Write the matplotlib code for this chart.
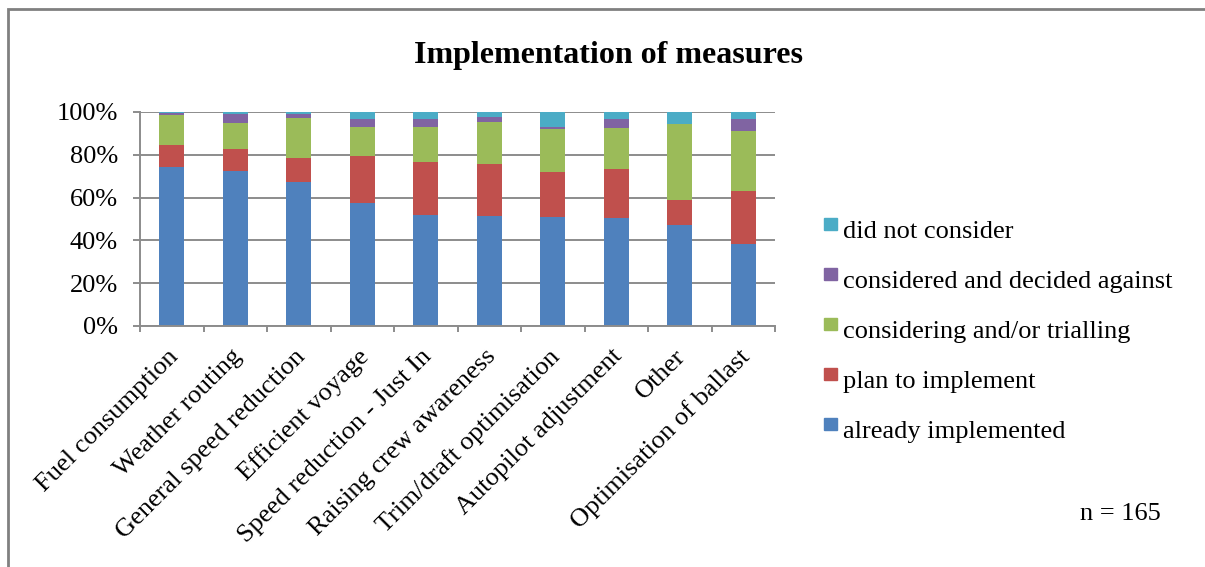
import numpy as np
import matplotlib
matplotlib.use('Agg')
import matplotlib.pyplot as plt
from matplotlib.patches import Rectangle
from matplotlib.transforms import ScaledTranslation
from matplotlib.ticker import PercentFormatter, FixedLocator, NullFormatter

''' chart data, read off the reference (percent of respondents) '''
measures = ['Fuel consumption', 'Weather routing', 'General speed reduction',
            'Efficient voyage', 'Speed reduction - Just In', 'Raising crew awareness',
            'Trim/draft optimisation', 'Autopilot adjustment', 'Other',
            'Optimisation of ballast']
already_implemented = [74.3, 72.5, 67.2, 57.6, 52.1, 51.6, 51.0, 50.4, 47.3, 38.4]
plan_to_implement = [10.3, 10.2, 11.4, 21.7, 24.7, 23.9, 21.1, 22.8, 11.5, 24.6]
considering_trialling = [13.8, 12.0, 18.6, 13.7, 16.2, 19.8, 19.8, 19.2, 35.4, 28.3]
decided_against = [1.1, 4.2, 1.7, 3.6, 3.6, 2.5, 1.2, 4.2, 0.0, 5.3]
did_not_consider = [0.5, 1.1, 1.1, 3.4, 3.4, 2.2, 6.9, 3.4, 5.8, 3.4]

series_names = ['already implemented', 'plan to implement', 'considering and/or trialling',
                'considered and decided against', 'did not consider']
series_colors = ['#4F81BD', '#C0504D', '#9BBB59', '#8064A2', '#4BACC6']

plt.rcParams['font.family'] = ['Liberation Serif', 'DejaVu Serif']
grey = '#8C8C8C'
W, H = 1205, 567

fig = plt.figure(figsize=(W/100, H/100), dpi=100)
ax = fig.add_axes([140/W, 1-326/H, 635/W, 214/H])

x = np.arange(len(measures))
bottom = np.zeros(len(measures))
for vals, name, col in zip([already_implemented, plan_to_implement, considering_trialling,
                            decided_against, did_not_consider], series_names, series_colors):
    vals = np.array(vals)
    ax.bar(x, vals, 0.4, bottom=bottom, color=col, label=name, linewidth=0)
    bottom = bottom + vals

ax.set_xlim(-0.5, len(measures)-0.5)
ax.set_ylim(0, 100)
ax.set_yticks([0, 20, 40, 60, 80, 100])
ax.yaxis.set_major_formatter(PercentFormatter(decimals=0))
ax.grid(axis='y', color=grey, linewidth=1.4)
ax.set_axisbelow(True)

# tick marks sit on the category boundaries, labels sit on the bars
ax.xaxis.set_major_locator(FixedLocator(np.arange(-0.5, len(measures), 1.0)))
ax.xaxis.set_major_formatter(NullFormatter())
ax.xaxis.set_minor_locator(FixedLocator(x))
ax.set_xticklabels(measures, minor=True, rotation=45, ha='right',
                   rotation_mode='anchor', fontsize=19)
ax.tick_params(axis='x', which='minor', length=0, pad=14)
ax.tick_params(axis='x', which='major', length=4.5, width=1.4, color=grey)
ax.tick_params(axis='y', length=5, width=1.4, color=grey, labelsize=19, pad=11)
shift = ScaledTranslation(-5/100, 0, fig.dpi_scale_trans)
for lab in ax.get_xticklabels(minor=True):
    lab.set_transform(lab.get_transform() + shift)

for s in ['top', 'right']:
    ax.spines[s].set_visible(False)
for s in ['left', 'bottom']:
    ax.spines[s].set_color(grey)
    ax.spines[s].set_linewidth(1.4)

# legend drawn by hand: small squares raised to the top of the text
for i, (name, col) in enumerate(zip(series_names[::-1], series_colors[::-1])):
    yc = 228 + 50*i
    fig.patches.append(Rectangle((824/W, 1-(yc+2)/H), 13/W, 12/H,
                                 transform=fig.transFigure, color=col))
    fig.text(843/W, 1-(yc+4)/H, name, ha='left', va='center', fontsize=19)

fig.text(609/W, 1-56/H, 'Implementation of measures', ha='center', va='center',
         fontsize=23, fontweight='bold')
fig.text(1120/W, 1-514/H, 'n = 165', ha='center', va='center', fontsize=19)

# outer chart frame, cut by the right and bottom edges of the picture
fig.patches.append(Rectangle((8/W, -0.1), 1.1, 1.1 - 9/H, transform=fig.transFigure,
                             fill=False, edgecolor='#808080', linewidth=2))

fig.savefig('out.png', dpi=100, facecolor='white')
